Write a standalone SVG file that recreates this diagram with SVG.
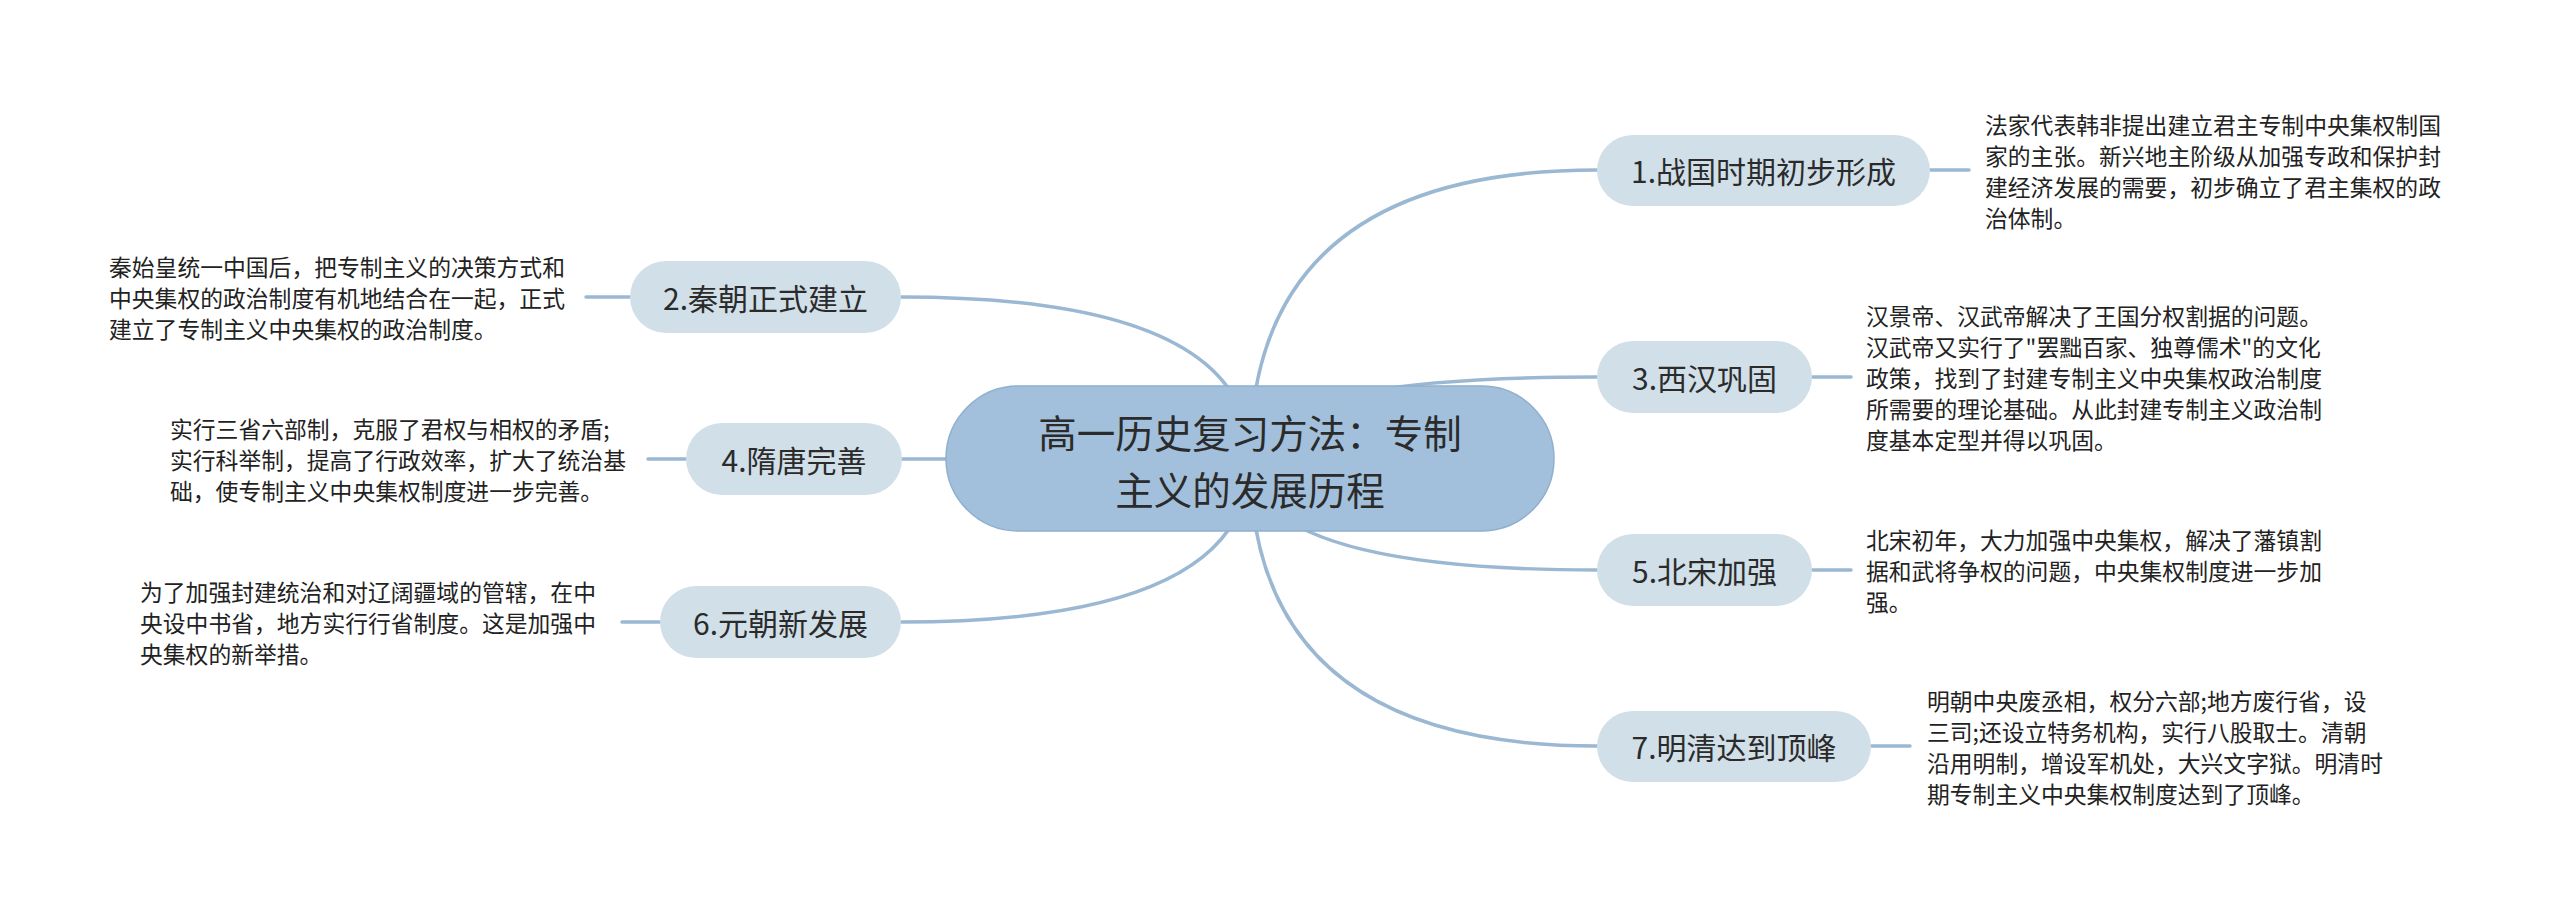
<svg xmlns="http://www.w3.org/2000/svg" width="2560" height="917" viewBox="0 0 2560 917">
<style>
.bg{fill:#ffffff}
.conn{fill:none;stroke:#9bb8d3;stroke-width:3.5;stroke-linecap:round}
.root{fill:#a2c0dc;stroke:#8fafcd;stroke-width:1.5}
.branch{fill:#d1dfe9}
.rt{font-family:"Noto Sans CJK SC","Noto Sans",sans-serif;font-size:38.5px;fill:#2b2b2b;text-anchor:middle;dominant-baseline:central}
.bt{font-family:"Noto Sans CJK SC","Noto Sans",sans-serif;font-size:30px;fill:#2b2b2b;text-anchor:middle;dominant-baseline:central}
.dt{font-family:"Noto Sans CJK SC","Noto Sans",sans-serif;font-size:22.8px;fill:#222222;dominant-baseline:central}
</style>
<rect class="bg" x="0" y="0" width="2560" height="917"/>
<g id="connectors">
<path class="conn" d="M1250,459 Q1250,170 1597,170"/>
<path class="conn" d="M1250,459 Q1250,377 1597,377"/>
<path class="conn" d="M1250,459 Q1250,570 1597,570"/>
<path class="conn" d="M1250,459 Q1250,746 1597,746"/>
<path class="conn" d="M1250,459 Q1250,297 901,297"/>
<path class="conn" d="M1250,459 L901,459"/>
<path class="conn" d="M1250,459 Q1250,622 901,622"/>
<path class="conn" d="M1930,170 L1969,170"/>
<path class="conn" d="M1812,377 L1851,377"/>
<path class="conn" d="M1812,570 L1851,570"/>
<path class="conn" d="M1871,746 L1910,746"/>
<path class="conn" d="M630,297 L586,297"/>
<path class="conn" d="M686,459 L648,459"/>
<path class="conn" d="M660,622 L622,622"/>
</g>
<g id="root">
<rect class="root" x="946" y="386" width="608" height="145" rx="72.5"/>
<text class="rt" x="1250" y="431">高一历史复习方法：专制</text>
<text class="rt" x="1250" y="488">主义的发展历程</text>
</g>
<g id="n1">
<rect class="branch" x="1597" y="135" width="333" height="71" rx="35.5"/>
<text class="bt" x="1763.5" y="170">1.战国时期初步形成</text>
<text class="dt" x="1985" y="124">法家代表韩非提出建立君主专制中央集权制国</text>
<text class="dt" x="1985" y="155">家的主张。新兴地主阶级从加强专政和保护封</text>
<text class="dt" x="1985" y="186">建经济发展的需要，初步确立了君主集权的政</text>
<text class="dt" x="1985" y="217">治体制。</text>
</g>
<g id="n3">
<rect class="branch" x="1597" y="341" width="215" height="72" rx="36"/>
<text class="bt" x="1704.5" y="377">3.西汉巩固</text>
<text class="dt" x="1866" y="315">汉景帝、汉武帝解决了王国分权割据的问题。</text>
<text class="dt" x="1866" y="346">汉武帝又实行了"罢黜百家、独尊儒术"的文化</text>
<text class="dt" x="1866" y="377">政策，找到了封建专制主义中央集权政治制度</text>
<text class="dt" x="1866" y="408">所需要的理论基础。从此封建专制主义政治制</text>
<text class="dt" x="1866" y="439">度基本定型并得以巩固。</text>
</g>
<g id="n5">
<rect class="branch" x="1597" y="534" width="215" height="72" rx="36"/>
<text class="bt" x="1704.5" y="570">5.北宋加强</text>
<text class="dt" x="1866" y="539">北宋初年，大力加强中央集权，解决了藩镇割</text>
<text class="dt" x="1866" y="570">据和武将争权的问题，中央集权制度进一步加</text>
<text class="dt" x="1866" y="601">强。</text>
</g>
<g id="n7">
<rect class="branch" x="1597" y="711" width="274" height="71" rx="35.5"/>
<text class="bt" x="1734" y="746">7.明清达到顶峰</text>
<text class="dt" x="1927" y="700">明朝中央废丞相，权分六部;地方废行省，设</text>
<text class="dt" x="1927" y="731">三司;还设立特务机构，实行八股取士。清朝</text>
<text class="dt" x="1927" y="762">沿用明制，增设军机处，大兴文字狱。明清时</text>
<text class="dt" x="1927" y="793">期专制主义中央集权制度达到了顶峰。</text>
</g>
<g id="n2">
<rect class="branch" x="630" y="261" width="271" height="72" rx="36"/>
<text class="bt" x="765.5" y="297">2.秦朝正式建立</text>
<text class="dt" x="109" y="266">秦始皇统一中国后，把专制主义的决策方式和</text>
<text class="dt" x="109" y="297">中央集权的政治制度有机地结合在一起，正式</text>
<text class="dt" x="109" y="328">建立了专制主义中央集权的政治制度。</text>
</g>
<g id="n4">
<rect class="branch" x="686" y="423" width="216" height="72" rx="36"/>
<text class="bt" x="794" y="459">4.隋唐完善</text>
<text class="dt" x="170" y="428">实行三省六部制，克服了君权与相权的矛盾;</text>
<text class="dt" x="170" y="459">实行科举制，提高了行政效率，扩大了统治基</text>
<text class="dt" x="170" y="490">础，使专制主义中央集权制度进一步完善。</text>
</g>
<g id="n6">
<rect class="branch" x="660" y="586" width="241" height="72" rx="36"/>
<text class="bt" x="780.5" y="622">6.元朝新发展</text>
<text class="dt" x="140" y="591">为了加强封建统治和对辽阔疆域的管辖，在中</text>
<text class="dt" x="140" y="622">央设中书省，地方实行行省制度。这是加强中</text>
<text class="dt" x="140" y="653">央集权的新举措。</text>
</g>
</svg>
